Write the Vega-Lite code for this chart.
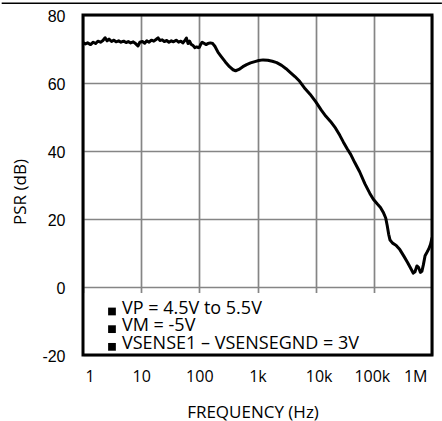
{
  "$schema": "https://vega.github.io/schema/vega-lite/v6.json",
  "autosize": {"type": "none"},
  "padding": {"left": 83, "top": 15, "right": 10, "bottom": 66},
  "width": 349,
  "height": 340,
  "background": "white",
  "config": {
    "view": {"stroke": null},
    "axis": {"domain": false, "ticks": false, "grid": true, "gridColor": "#858585", "gridWidth": 1.7, "gridOpacity": 1, "labelColor": "black", "titleColor": "black", "titleFontWeight": "normal"}
  },
  "layer": [
    {
      "data": {"values": [
        {"f": 1, "psr": 71.9}, {"f": 1.1, "psr": 71.5}, {"f": 1.2, "psr": 71.8}, {"f": 1.35, "psr": 71.3},
        {"f": 1.5, "psr": 72.0}, {"f": 1.65, "psr": 71.6}, {"f": 1.8, "psr": 72.3}, {"f": 2.0, "psr": 72.0},
        {"f": 2.2, "psr": 72.5}, {"f": 2.4, "psr": 73.3}, {"f": 2.6, "psr": 72.4}, {"f": 2.8, "psr": 72.9},
        {"f": 3.1, "psr": 72.2}, {"f": 3.4, "psr": 72.6}, {"f": 3.7, "psr": 72.1}, {"f": 4.1, "psr": 72.4},
        {"f": 4.5, "psr": 72.0}, {"f": 5.0, "psr": 72.3}, {"f": 5.5, "psr": 71.9}, {"f": 6.0, "psr": 72.2},
        {"f": 6.6, "psr": 71.8}, {"f": 7.3, "psr": 72.1}, {"f": 8.0, "psr": 71.6}, {"f": 8.8, "psr": 70.9},
        {"f": 9.5, "psr": 72.0}, {"f": 10.5, "psr": 72.2}, {"f": 11.5, "psr": 71.7}, {"f": 12.5, "psr": 72.4},
        {"f": 13.7, "psr": 72.0}, {"f": 15, "psr": 72.6}, {"f": 16.5, "psr": 72.3}, {"f": 18, "psr": 72.8},
        {"f": 19.5, "psr": 73.3}, {"f": 21, "psr": 72.5}, {"f": 23, "psr": 72.7}, {"f": 25, "psr": 72.2},
        {"f": 27.5, "psr": 72.5}, {"f": 30, "psr": 72.0}, {"f": 33, "psr": 72.4}, {"f": 36, "psr": 72.1},
        {"f": 40, "psr": 72.6}, {"f": 44, "psr": 72.0}, {"f": 48, "psr": 72.3}, {"f": 52, "psr": 71.8},
        {"f": 56, "psr": 72.4}, {"f": 60, "psr": 73.2}, {"f": 64, "psr": 71.6}, {"f": 68, "psr": 72.3},
        {"f": 72, "psr": 71.4}, {"f": 78, "psr": 71.0}, {"f": 84, "psr": 70.4}, {"f": 90, "psr": 70.6},
        {"f": 96, "psr": 70.4}, {"f": 100, "psr": 70.5}, {"f": 105, "psr": 71.3}, {"f": 112, "psr": 72.0},
        {"f": 120, "psr": 71.7}, {"f": 130, "psr": 71.3}, {"f": 140, "psr": 71.6}, {"f": 155, "psr": 71.8},
        {"f": 170, "psr": 71.6}, {"f": 185, "psr": 70.8}, {"f": 210, "psr": 69.0}, {"f": 240, "psr": 67.7},
        {"f": 280, "psr": 66.2}, {"f": 330, "psr": 64.8}, {"f": 380, "psr": 63.9}, {"f": 420, "psr": 63.6},
        {"f": 480, "psr": 64.0}, {"f": 560, "psr": 64.8}, {"f": 650, "psr": 65.4}, {"f": 760, "psr": 65.9},
        {"f": 900, "psr": 66.3}, {"f": 1050, "psr": 66.6}, {"f": 1250, "psr": 66.8}, {"f": 1500, "psr": 66.7},
        {"f": 1800, "psr": 66.4}, {"f": 2140, "psr": 66.0}, {"f": 2600, "psr": 65.2}, {"f": 3100, "psr": 64.2},
        {"f": 3600, "psr": 63.2}, {"f": 4400, "psr": 61.9}, {"f": 5300, "psr": 60.5}, {"f": 6600, "psr": 58.3},
        {"f": 8000, "psr": 56.7}, {"f": 10000, "psr": 54.5}, {"f": 12500, "psr": 52.0}, {"f": 15000, "psr": 50.2},
        {"f": 18000, "psr": 48.7}, {"f": 22000, "psr": 46.7}, {"f": 26000, "psr": 44.6}, {"f": 30000, "psr": 42.6},
        {"f": 35000, "psr": 40.6}, {"f": 40000, "psr": 39.0}, {"f": 47000, "psr": 36.6}, {"f": 57000, "psr": 33.9},
        {"f": 70000, "psr": 30.4}, {"f": 85000, "psr": 27.6}, {"f": 98000, "psr": 25.8}, {"f": 115000, "psr": 24.4},
        {"f": 130000, "psr": 23.4}, {"f": 145000, "psr": 22.0}, {"f": 160000, "psr": 20.3}, {"f": 170000, "psr": 18.0},
        {"f": 180000, "psr": 15.5}, {"f": 190000, "psr": 13.8}, {"f": 210000, "psr": 12.9}, {"f": 240000, "psr": 12.3},
        {"f": 280000, "psr": 11.0}, {"f": 330000, "psr": 9.0}, {"f": 380000, "psr": 7.2}, {"f": 430000, "psr": 5.5},
        {"f": 475000, "psr": 4.1}, {"f": 510000, "psr": 4.5}, {"f": 550000, "psr": 6.2}, {"f": 590000, "psr": 5.7},
        {"f": 630000, "psr": 4.3}, {"f": 670000, "psr": 4.6}, {"f": 710000, "psr": 6.5}, {"f": 760000, "psr": 9.2},
        {"f": 820000, "psr": 10.2}, {"f": 880000, "psr": 11.2}, {"f": 940000, "psr": 12.5}, {"f": 1000000, "psr": 14.4}
      ]},
      "mark": {"type": "line", "color": "black", "strokeWidth": 3, "strokeJoin": "round", "strokeCap": "round", "clip": true},
      "encoding": {
        "x": {"field": "f", "type": "quantitative",
          "scale": {"type": "log", "domain": [1, 1000000], "nice": false},
          "axis": {
            "values": [1, 10, 100, 1000, 10000, 100000, 1000000],
            "format": "~s",
            "labelFont": "Open Sans", "labelFontSize": 16,
            "labelBaseline": "alphabetic", "labelPadding": 26,
            "labelOffset": {"condition": [
              {"test": "datum.value == 1", "value": 2},
              {"test": "datum.value == 10000", "value": 3},
              {"test": "datum.value == 100000", "value": -2},
              {"test": "datum.value == 1000000", "value": -5}
            ], "value": 0},
            "title": "FREQUENCY (Hz)", "titleFont": "Open Sans", "titleFontSize": 17,
            "titleX": 169.5, "titleY": 62, "titleAlign": "center", "titleBaseline": "alphabetic"
          }
        },
        "y": {"field": "psr", "type": "quantitative",
          "scale": {"domain": [-20, 80], "nice": false, "zero": false},
          "axis": {
            "values": [-20, 0, 20, 40, 60, 80],
            "labelExpr": "'' + datum.value",
            "labelFont": "Liberation Sans", "labelFontSize": 16,
            "labelPadding": 18, "labelBaseline": "middle", "labelOffset": 1,
            "title": "PSR (dB)", "titleFont": "Open Sans", "titleFontSize": 17,
            "titleAngle": 270, "titleX": -58, "titleY": 176.5, "titleAlign": "center", "titleBaseline": "alphabetic"
          }
        }
      }
    },
    {
      "data": {"values": [{"note": "legend box"}]},
      "mark": {"type": "rect", "fill": "white", "stroke": null},
      "encoding": {
        "x": {"datum": 1, "type": "quantitative", "scale": {"type": "log", "domain": [1, 1000000], "nice": false}},
        "x2": {"datum": 1000000},
        "y": {"datum": -20, "type": "quantitative", "scale": {"domain": [-20, 80], "nice": false, "zero": false}},
        "y2": {"datum": -1.8}
      }
    },
    {
      "data": {"values": [{"note": "marker 1"}]},
      "mark": {"type": "square", "size": 60, "filled": true, "color": "black", "opacity": 1},
      "encoding": {
        "x": {"datum": 3.15, "type": "quantitative", "scale": {"type": "log", "domain": [1, 1000000], "nice": false}},
        "y": {"datum": -7.2, "type": "quantitative", "scale": {"domain": [-20, 80], "nice": false, "zero": false}}
      }
    },
    {
      "data": {"values": [{"note": "marker 2"}]},
      "mark": {"type": "square", "size": 60, "filled": true, "color": "black", "opacity": 1},
      "encoding": {
        "x": {"datum": 3.15, "type": "quantitative", "scale": {"type": "log", "domain": [1, 1000000], "nice": false}},
        "y": {"datum": -12.4, "type": "quantitative", "scale": {"domain": [-20, 80], "nice": false, "zero": false}}
      }
    },
    {
      "data": {"values": [{"note": "marker 3"}]},
      "mark": {"type": "square", "size": 60, "filled": true, "color": "black", "opacity": 1},
      "encoding": {
        "x": {"datum": 3.15, "type": "quantitative", "scale": {"type": "log", "domain": [1, 1000000], "nice": false}},
        "y": {"datum": -17.6, "type": "quantitative", "scale": {"domain": [-20, 80], "nice": false, "zero": false}}
      }
    },
    {
      "data": {"values": [{"note": "conditions"}]},
      "mark": {"type": "text", "align": "left", "baseline": "alphabetic", "font": "Open Sans", "fontSize": 18, "color": "black", "lineBreak": "\n", "lineHeight": 17.6},
      "encoding": {
        "x": {"datum": 4.68, "type": "quantitative", "scale": {"type": "log", "domain": [1, 1000000], "nice": false}},
        "y": {"datum": -7.9, "type": "quantitative", "scale": {"domain": [-20, 80], "nice": false, "zero": false}},
        "text": {"value": "VP = 4.5V to 5.5V\nVM = -5V\nVSENSE1 – VSENSEGND = 3V"}
      }
    },
    {
      "data": {"values": [{"note": "frame"}]},
      "mark": {"type": "rect", "fill": null, "fillOpacity": 0, "stroke": "black", "strokeWidth": 3},
      "encoding": {
        "x": {"datum": 1, "type": "quantitative", "scale": {"type": "log", "domain": [1, 1000000], "nice": false}},
        "x2": {"datum": 1000000},
        "y": {"datum": -20, "type": "quantitative", "scale": {"domain": [-20, 80], "nice": false, "zero": false}},
        "y2": {"datum": 80}
      }
    },
    {
      "data": {"values": [{"note": "header rule"}]},
      "mark": {"type": "rect", "fill": "black", "clip": false},
      "encoding": {
        "x": {"datum": 0.04, "type": "quantitative", "scale": {"type": "log", "domain": [1, 1000000], "nice": false}},
        "x2": {"datum": 1480000},
        "y": {"datum": 83.25, "type": "quantitative", "scale": {"domain": [-20, 80], "nice": false, "zero": false}},
        "y2": {"datum": 83.7}
      }
    }
  ]
}
